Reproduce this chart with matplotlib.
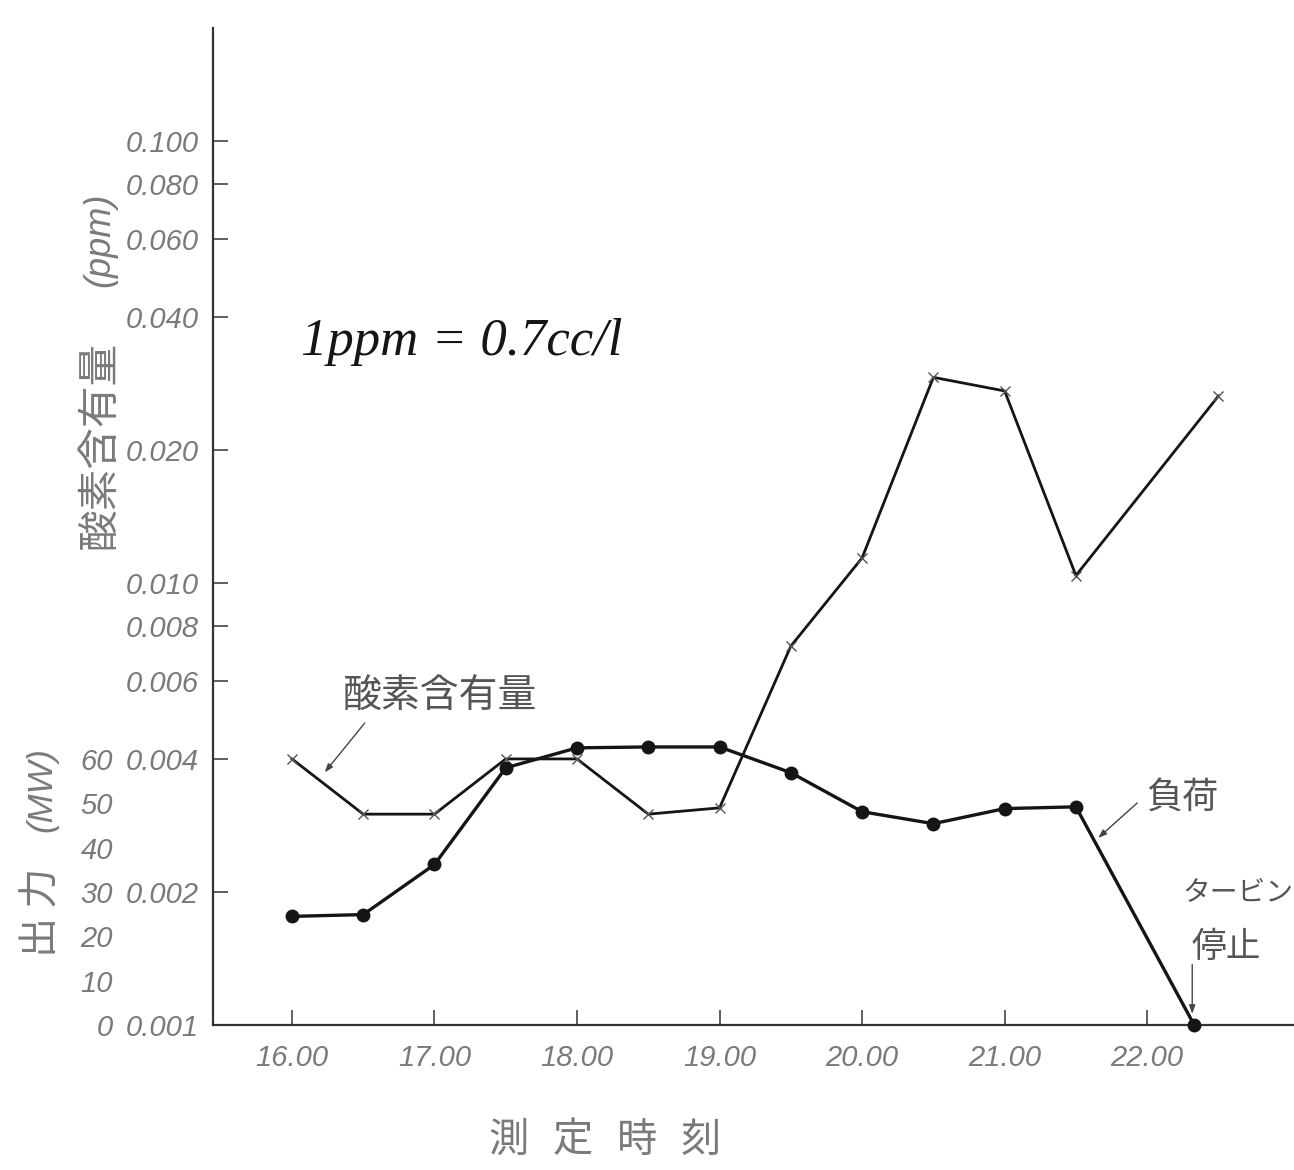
import numpy as np
import matplotlib
matplotlib.use("Agg")
import matplotlib.pyplot as plt

# oxygen content (ppm) sampled every half hour, last one after the trip
o2_time = [16.0, 16.5, 17.0, 17.5, 18.0, 18.5, 19.0, 19.5, 20.0, 20.5, 21.0, 21.5, 22.5]
o2_ppm = [0.0040, 0.0030, 0.0030, 0.0040, 0.0040, 0.0030, 0.0031,
          0.0072, 0.0114, 0.0292, 0.0272, 0.0104, 0.0265]

# unit load (MW)
load_time = [16.0, 16.5, 17.0, 17.5, 18.0, 18.5, 19.0, 19.5, 20.0, 20.5, 21.0, 21.5, 22.33]
load_mw = [24.5, 24.9, 36.2, 58.0, 62.5, 62.7, 62.7, 56.9, 48.1, 45.4, 48.8, 49.2, 0.0]

ppm_ticks = [0.001, 0.002, 0.004, 0.006, 0.008, 0.010, 0.020, 0.040, 0.060, 0.080, 0.100]
mw_ticks = [0, 10, 20, 30, 40, 50, 60]
hour_ticks = [16, 17, 18, 19, 20, 21, 22]
hour_labels = ["16.00", "17.00", "18.00", "19.00", "20.00", "21.00", "22.00"]

JP = ["Noto Sans CJK JP", "DejaVu Sans"]
NUM = ["Liberation Sans Narrow", "Liberation Sans", "DejaVu Sans"]
GREY = "#7a7a7a"
INK = "#151515"

fig = plt.figure(figsize=(12.94, 11.70), dpi=100)
ax = fig.add_axes([0.1646, 0.1239, 0.8354, 0.852])

ax.set_yscale("log")
ymin, ymax = 0.001, 0.180
ax.set_ylim(ymin, ymax)
ax.set_xlim(15.446, 23.03)

ax.plot(o2_time, o2_ppm, color=INK, lw=2.0, marker="x", ms=7, mew=1.0,
        mec="#555555", zorder=3)

# load shares the lower part of the panel: 0 MW at 0.001, 60 MW at 0.004
ax2 = ax.twinx()
mw_top = 60 * np.log(ymax / ymin) / np.log(0.004 / ymin)
ax2.set_ylim(0, mw_top)
ax2.plot(load_time, load_mw, color=INK, lw=2.4, marker="o", ms=9,
         clip_on=False, zorder=4)

for s in ["top", "right"]:
    ax.spines[s].set_visible(False)
for s in ["top", "right", "left", "bottom"]:
    ax2.spines[s].set_visible(False)
for s in ["left", "bottom"]:
    ax.spines[s].set_color("#333333")
    ax.spines[s].set_linewidth(1.6)

ax.set_yticks(ppm_ticks)
ax.set_yticklabels([f"{v:.3f}" for v in ppm_ticks])
ax.yaxis.set_minor_locator(matplotlib.ticker.NullLocator())
ax.tick_params(axis="y", direction="in", length=11, width=1.2, pad=10,
               colors="#444444", labelcolor=GREY)
for t in ax.get_yticklabels():
    t.set_fontfamily(NUM)
    t.set_fontstyle("italic")
    t.set_fontsize(21)

ax.set_xticks(hour_ticks)
ax.set_xticklabels(hour_labels)
ax.tick_params(axis="x", direction="in", length=11, width=1.2, pad=14,
               colors="#444444", labelcolor=GREY)
for t in ax.get_xticklabels():
    t.set_fontfamily(NUM)
    t.set_fontstyle("italic")
    t.set_fontsize(21)

ax2.yaxis.tick_left()
ax2.set_yticks(mw_ticks)
ax2.tick_params(axis="y", length=0, pad=72, labelcolor=GREY)
ax2.tick_params(axis="x", length=0)
for t in ax2.get_yticklabels():
    t.set_fontfamily(NUM)
    t.set_fontstyle("italic")
    t.set_fontsize(21)

# axis titles
fig.text(0.0773, 0.6197, "酸素含有量", rotation=90, ha="center", va="center",
         fontsize=30, color=GREY, family=JP)
fig.text(0.0773, 0.7950, "(ppm)", rotation=90, ha="center", va="center",
         fontsize=26, color=GREY, family=NUM, style="italic")
fig.text(0.0325, 0.2200, "出 力", rotation=90, ha="center", va="center",
         fontsize=29, color=GREY, family=JP)
fig.text(0.0325, 0.3250, "(MW)", rotation=90, ha="center", va="center",
         fontsize=25, color=GREY, family=NUM, style="italic")
for i, ch in enumerate("測定時刻"):
    fig.text((509 + 64 * i) / 1294, 0.0256, ch, ha="center", va="center",
             fontsize=29, color=GREY, family=JP)

ax.text(17.19, 0.0351, "1ppm = 0.7cc/l", ha="center", va="center",
        fontsize=38, style="italic", family=["Liberation Serif", "DejaVu Serif"],
        color=INK)

arrow = dict(arrowstyle="-|>,head_length=0.5,head_width=0.18", color="#444444",
             lw=1.0, shrinkA=0, shrinkB=0)

ax.text(17.04, 0.00552, "酸素含有量", ha="center", va="center", fontsize=28,
        color="#555555", family=JP)
ax.annotate("", xy=(16.23, 0.00373), xytext=(16.51, 0.00482), arrowprops=arrow)

ax.text(22.25, 0.00325, "負荷", ha="center", va="center", fontsize=26,
        color="#555555", family=JP)
ax.annotate("", xy=(21.656, 0.00265), xytext=(21.93, 0.00318), arrowprops=arrow)

ax.text(22.64, 0.00199, "タービン", ha="center", va="center", fontsize=20,
        color="#555555", family=JP)
ax.text(22.555, 0.00150, "停止", ha="center", va="center", fontsize=25,
        color="#555555", family=JP)
ax.annotate("", xy=(22.316, 0.00106), xytext=(22.316, 0.00137), arrowprops=arrow)

fig.savefig("out.png", dpi=100, facecolor="white")
